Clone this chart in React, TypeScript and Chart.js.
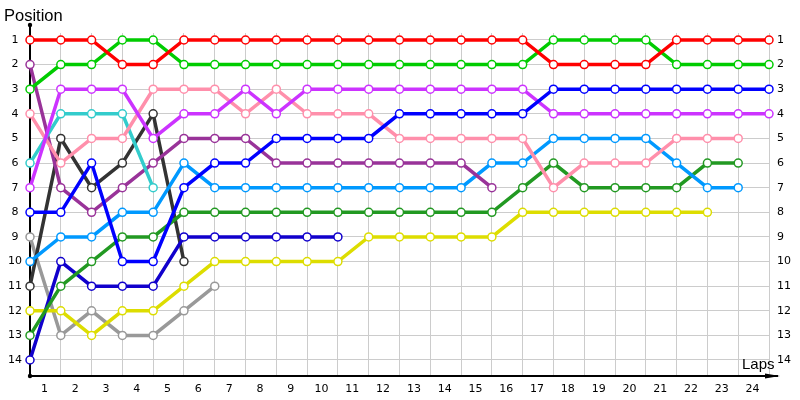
import React, { useEffect, useRef } from "react";
import { Chart, registerables } from "chart.js";

Chart.register(...registerables);

const laps = [1, 2, 3, 4, 5, 6, 7, 8, 9, 10, 11, 12, 13, 14, 15, 16, 17, 18, 19, 20, 21, 22, 23, 24];
const positions = [1, 2, 3, 4, 5, 6, 7, 8, 9, 10, 11, 12, 13, 14];

const _ = null;
const red = [1, 1, 1, 2, 2, 1, 1, 1, 1, 1, 1, 1, 1, 1, 1, 1, 1, 2, 2, 2, 2, 1, 1, 1, 1];
const green = [3, 2, 2, 1, 1, 2, 2, 2, 2, 2, 2, 2, 2, 2, 2, 2, 2, 1, 1, 1, 1, 2, 2, 2, 2];
const blue = [8, 8, 6, 10, 10, 7, 6, 6, 5, 5, 5, 5, 4, 4, 4, 4, 4, 3, 3, 3, 3, 3, 3, 3, 3];
const magenta = [7, 3, 3, 3, 5, 4, 4, 3, 4, 3, 3, 3, 3, 3, 3, 3, 3, 4, 4, 4, 4, 4, 4, 4, 4];
const pink = [4, 6, 5, 5, 3, 3, 3, 4, 3, 4, 4, 4, 5, 5, 5, 5, 5, 7, 6, 6, 6, 5, 5, 5, _];
const teal = [6, 4, 4, 4, 7];
const darkPurple = [2, 7, 8, 7, 6, 5, 5, 5, 6, 6, 6, 6, 6, 6, 6, 7];
const lightBlue = [10, 9, 9, 8, 8, 6, 7, 7, 7, 7, 7, 7, 7, 7, 7, 6, 6, 5, 5, 5, 5, 6, 7, 7, _];
const darkGreen = [13, 11, 10, 9, 9, 8, 8, 8, 8, 8, 8, 8, 8, 8, 8, 8, 7, 6, 7, 7, 7, 7, 6, 6, _];
const yellow = [12, 12, 13, 12, 12, 11, 10, 10, 10, 10, 10, 9, 9, 9, 9, 9, 8, 8, 8, 8, 8, 8, 8, _, _];
const darkBlue = [14, 10, 11, 11, 11, 9, 9, 9, 9, 9, 9];
const black = [11, 5, 7, 6, 4, 10];
const grey = [9, 13, 12, 13, 13, 12, 11];

const series: [number[] | (number | null)[], string][] = [
  [red, "#ff0000"],
  [green, "#00cc00"],
  [blue, "#0000ff"],
  [magenta, "#cc33ff"],
  [pink, "#ff8fab"],
  [teal, "#33cccc"],
  [darkPurple, "#993399"],
  [lightBlue, "#0099ff"],
  [darkGreen, "#229922"],
  [yellow, "#dddd00"],
  [darkBlue, "#1100cc"],
  [black, "#333333"],
  [grey, "#999999"],
];

const TICK_FONT = "11px 'DejaVu Sans'";

const decorPlugin = {
  id: "decor",
  beforeDatasetsDraw(chart: any) {
    const ctx = chart.ctx;
    const xs = chart.scales.x;
    const ys = chart.scales.y;
    const left = xs.getPixelForValue(0);
    const bottom = chart.chartArea.bottom;
    ctx.save();
    ctx.strokeStyle = "#000";
    ctx.fillStyle = "#000";
    ctx.lineWidth = 2;
    // y axis
    ctx.beginPath();
    ctx.moveTo(left, 25);
    ctx.lineTo(left, bottom);
    ctx.stroke();
    // x axis
    ctx.beginPath();
    ctx.moveTo(left, bottom);
    ctx.lineTo(778, bottom);
    ctx.stroke();
    ctx.beginPath();
    ctx.moveTo(765, bottom - 2.5);
    ctx.lineTo(780, bottom);
    ctx.lineTo(765, bottom + 2.5);
    ctx.closePath();
    ctx.fill();
    ctx.beginPath();
    ctx.arc(left, 25, 2.2, 0, Math.PI * 2);
    ctx.fill();
    ctx.beginPath();
    ctx.arc(left, bottom, 2.2, 0, Math.PI * 2);
    ctx.fill();

    // tick labels
    ctx.font = TICK_FONT;
    ctx.fillStyle = "#000";
    ctx.textBaseline = "middle";
    positions.forEach((p) => {
      const y = ys.getPixelForValue(p);
      ctx.textAlign = "center";
      ctx.fillText(String(p), 15, y);
      ctx.textAlign = "left";
      ctx.fillText(String(p), 777, y);
    });
    ctx.textAlign = "center";
    laps.forEach((l) => {
      const x = xs.getPixelForValue(l - 0.5);
      ctx.fillText(String(l), x - 1, 389);
    });

    // axis titles
    ctx.textAlign = "left";
    ctx.textBaseline = "alphabetic";
    ctx.font = "16.5px 'Liberation Sans'";
    ctx.fillText("Position", 4, 21);
    ctx.font = "15px 'Liberation Sans'";
    ctx.fillText("Laps", 742, 369);
    ctx.restore();
  },
};

export default function App() {
  const ref = useRef<HTMLCanvasElement>(null);
  useEffect(() => {
    document.body.style.margin = "0";
    const datasets = series.map(([vals, color]) => ({
      data: vals.map((v, i) => ({ x: i, y: v })),
      borderColor: color,
      backgroundColor: color,
      borderWidth: 3.5,
      pointRadius: 4,
      pointBorderWidth: 1.5,
      pointBackgroundColor: "#ffffff",
      pointBorderColor: color,
      tension: 0,
      spanGaps: false,
      clip: false as any,
    }));
    const chart = new Chart(ref.current!, {
      type: "line",
      data: { datasets },
      options: {
        animation: false,
        responsive: false,
        layout: { padding: { left: 30, right: 31, top: 33, bottom: 24 } },
        plugins: { legend: { display: false }, tooltip: { enabled: false } },
        scales: {
          x: {
            type: "linear",
            min: 0,
            max: 24,
            afterBuildTicks: (s: any) => {
              s.ticks = [0, ...laps].map((v) => ({ value: v }));
            },
            afterFit: (s: any) => {
              s.height = 0;
            },
            ticks: { display: false },
            grid: { color: "#cccccc", lineWidth: 1, drawTicks: false },
            border: { display: false },
          },
          y: {
            type: "linear",
            reverse: true,
            min: 0.716,
            max: 14.65,
            afterBuildTicks: (s: any) => {
              s.ticks = positions.map((v) => ({ value: v }));
            },
            afterFit: (s: any) => {
              s.width = 0;
            },
            ticks: { display: false },
            grid: { color: "#cccccc", lineWidth: 1, drawTicks: false },
            border: { display: false },
          },
        },
      },
      plugins: [decorPlugin],
    });
    return () => chart.destroy();
  }, []);
  return (
    <div style={{ width: 800, height: 400 }}>
      <canvas ref={ref} width={800} height={400} />
    </div>
  );
}
